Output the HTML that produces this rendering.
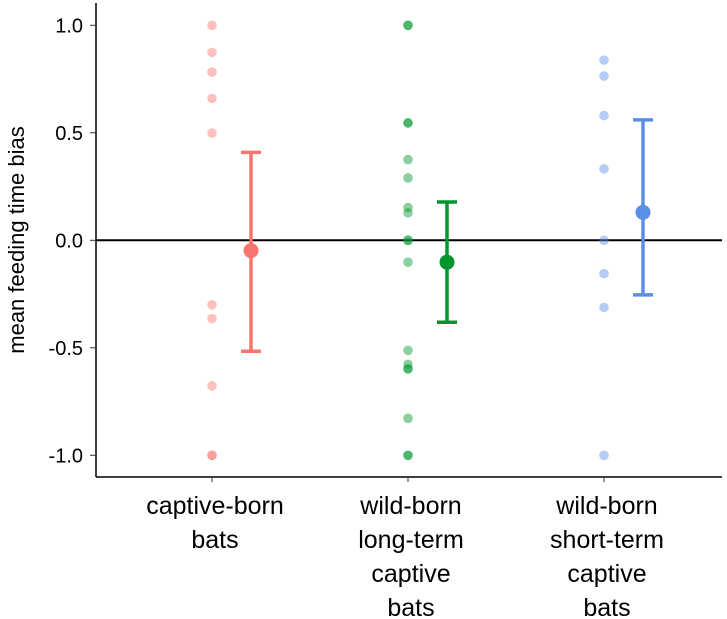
<!DOCTYPE html>
<html><head><meta charset="utf-8"><style>
html,body{margin:0;padding:0;background:#fff;width:727px;height:619px;overflow:hidden}
svg text{font-family:"Liberation Sans",Arial,sans-serif;fill:#000}
</style></head><body>
<svg id="chart" width="727" height="619" viewBox="0 0 727 619" xmlns="http://www.w3.org/2000/svg">
<text transform="translate(24,240) rotate(-90)" text-anchor="middle" font-size="22">mean feeding time bias</text>
<g id="g-axes"></g><g id="g-marks"></g>
</svg>
<script>
const categories = [["captive-born","bats"],["wild-born","long-term","captive","bats"],["wild-born","short-term","captive","bats"]];
const colors = ["#f8766d","#00962f","#5a8fe6"];
const pointsCaptive = [1.0,0.874,0.782,0.660,0.499,-0.30,-0.364,-0.677,-1.0,-1.0];
const pointsWildLong = [1.0,1.0,0.546,0.546,0.375,0.290,0.152,0.128,0,0,-0.102,-0.512,-0.577,-0.598,-0.598,-0.828,-1.0,-1.0];
const pointsWildShort = [0.838,0.764,0.580,0.332,0,-0.155,-0.312,-1.0];
const means = [-0.048,-0.102,0.130];
const upper = [0.409,0.178,0.56];
const lower = [-0.516,-0.381,-0.254];
const yTicks = [1.0,0.5,0.0,-0.5,-1.0];
const yTickLabels = ["1.0","0.5","0.0","-0.5","-1.0"];

const NS="http://www.w3.org/2000/svg";
const y = v => 240.3 - v*215;
const x = i => 212 + i*196;
function mk(tag, attrs, parent){const e=document.createElementNS(NS,tag);for(const k in attrs)e.setAttribute(k,attrs[k]);parent.appendChild(e);return e;}
const ax=document.getElementById('g-axes'), mg=document.getElementById('g-marks');

let e=mk('line',{x1:96,y1:3,x2:96,y2:477,stroke:'#000','stroke-width':1.5},ax);


e=mk('line',{x1:96,y1:477,x2:722,y2:477,stroke:'#000','stroke-width':1.5},ax);


e=mk('line',{x1:96,y1:y(0),x2:722,y2:y(0),stroke:'#000','stroke-width':2},ax);



yTicks.forEach((v,i)=>{
  let t=mk('line',{x1:90,y1:y(v),x2:96,y2:y(v),stroke:'#333','stroke-width':1},ax);
  
  
  let l=mk('text',{x:83,y:y(v)+7,'text-anchor':'end','font-size':20},ax);
  l.textContent=yTickLabels[i];
  
  
});

categories.forEach((lines,i)=>{
  let t=mk('line',{x1:x(i),y1:477,x2:x(i),y2:482,stroke:'#333','stroke-width':1},ax);
  
  
  let tx=mk('text',{'text-anchor':'middle','font-size':25},ax);
  
  
  lines.forEach((s,j)=>{let ts=mk('tspan',{x:x(i)+3,y:514+j*34},tx);ts.textContent=s;});
});

[pointsCaptive,pointsWildLong,pointsWildShort].forEach((arr,i)=>{
  arr.forEach(v=>{
    let c=mk('circle',{cx:x(i),cy:y(v),r:4.8,fill:colors[i],'fill-opacity':0.45},mg);
    
    
  });
});

means.forEach((m,i)=>{
  const cx=x(i)+39;
  let g=mk('g',{stroke:colors[i],'stroke-width':3.5},mg);
  
  
  mk('line',{x1:cx,y1:y(upper[i]),x2:cx,y2:y(lower[i])},g);
  mk('line',{x1:cx-10,y1:y(upper[i]),x2:cx+10,y2:y(upper[i])},g);
  mk('line',{x1:cx-10,y1:y(lower[i]),x2:cx+10,y2:y(lower[i])},g);
  let c=mk('circle',{cx:cx,cy:y(m),r:7.5,fill:colors[i]},mg);
  
  
});
</script>
</body></html>
